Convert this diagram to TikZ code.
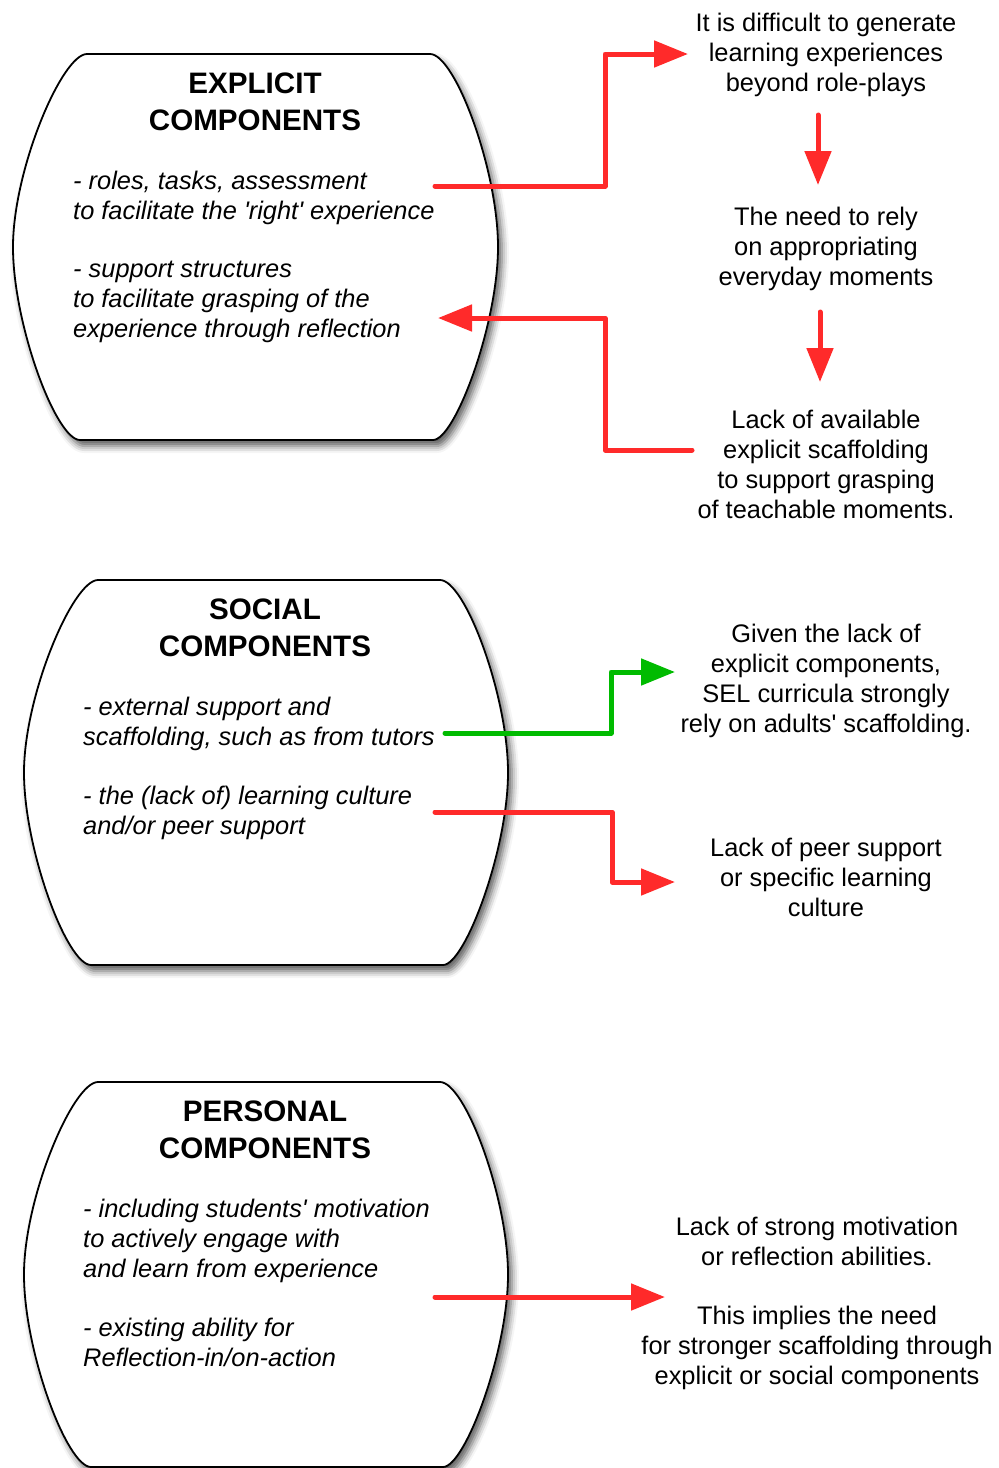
\documentclass[tikz,border=0pt]{standalone}
\usepackage{fontspec}
\newfontfamily\diagfont{Liberation Sans}
\usetikzlibrary{arrows.meta,shadows.blur}
\definecolor{arrowred}{RGB}{255,42,42}
\definecolor{arrowgreen}{RGB}{0,187,0}

% barrel-shaped container: flat top and bottom, bulging sides
% #1 left x, #2 right x, #3 top y, #4 bottom y
\newcommand\drawbarrel[4]{%
  \pgfmathsetmacro\brL{#1}\pgfmathsetmacro\brR{#2}%
  \pgfmathsetmacro\brT{#3}\pgfmathsetmacro\brB{#4}%
  \pgfmathsetmacro\brM{(#3+#4)/2}%
  \pgfmathsetmacro\brU{#3+0.3*(#4-#3)}%
  \pgfmathsetmacro\brD{#3+0.7*(#4-#3)}%
  \draw[barrel] ({\brL+74},\brT) -- ({\brR-68},\brT)
    .. controls ({\brR-43},\brT) and (\brR,\brU) .. (\brR,\brM)
    .. controls (\brR,\brD) and ({\brR-43},\brB) .. ({\brR-65},\brB)
    -- ({\brL+67},\brB)
    .. controls ({\brL+43},\brB) and (\brL,\brD) .. (\brL,\brM)
    .. controls (\brL,\brU) and ({\brL+49},\brT) .. ({\brL+74},\brT) -- cycle;
}

\tikzset{
  barrel/.style={draw=black, line width=1.8pt, fill=white,
    blur shadow={shadow xshift=4pt, shadow yshift=-6pt,
      shadow blur radius=7pt, shadow opacity=65}},
  boxtitle/.style={font=\diagfont\fontsize{29.6}{37}\selectfont\bfseries,
    align=center, inner sep=0pt, anchor=base},
  boxbody/.style={font=\diagfont\fontsize{25.4}{29.6}\selectfont\itshape,
    align=left, inner sep=0pt, anchor=base west},
  note/.style={font=\diagfont\fontsize{25.4}{30}\selectfont,
    align=center, inner sep=0pt, anchor=base},
  link/.style={line width=5pt, line cap=round, line join=round,
    -{Triangle[length=34pt,width=26pt]}},
  redlink/.style={link, color=arrowred},
  greenlink/.style={link, color=arrowgreen},
}

\begin{document}
\begin{tikzpicture}[x=1pt, y=-1pt]
\useasboundingbox (0,0) rectangle (999,1468);

% ---------- containers ----------
\drawbarrel{13}{498}{54}{440}
\drawbarrel{24}{508}{580}{965}
\drawbarrel{24}{508}{1082}{1467}

% node positions below give the baseline of each text's last line

% ---------- explicit components ----------
\node[boxtitle] (exp-title) at (255,130) {EXPLICIT\\COMPONENTS};
\node[boxbody] (exp-a) at (73,219) {- roles, tasks, assessment\\to facilitate the 'right' experience};
\node[boxbody] (exp-b) at (73,337) {- support structures\\to facilitate grasping of the\\experience through reflection};

% ---------- social components ----------
\node[boxtitle] (soc-title) at (265,656) {SOCIAL\\COMPONENTS};
\node[boxbody] (soc-a) at (83,745) {- external support and\\scaffolding, such as from tutors};
\node[boxbody] (soc-b) at (83,834) {- the (lack of) learning culture\\and/or peer support};

% ---------- personal components ----------
\node[boxtitle] (per-title) at (265,1158) {PERSONAL\\COMPONENTS};
\node[boxbody] (per-a) at (83,1277) {- including students' motivation\\to actively engage with\\and learn from experience};
\node[boxbody] (per-b) at (83,1366) {- existing ability for\\Reflection-in/on-action};

% ---------- consequences ----------
\node[note] (n-roleplay) at (826,91) {It is difficult to generate\\learning experiences\\beyond role-plays};
\node[note] (n-everyday) at (826,285) {The need to rely\\on appropriating\\everyday moments};
\node[note] (n-lack) at (826,518) {Lack of available\\explicit scaffolding\\to support grasping\\of teachable moments.};
\node[note] (n-adults) at (826,732) {Given the lack of\\explicit components,\\SEL curricula strongly\\rely on adults' scaffolding.};
\node[note] (n-peer) at (826,916) {Lack of peer support\\or specific learning\\culture};
\node[note] (n-motiv) at (817,1265) {Lack of strong motivation\\or reflection abilities.};
\node[note] (n-need) at (817,1384) {This implies the need\\for stronger scaffolding through\\explicit or social components};

% ---------- connector end points ----------
\coordinate (s1) at (435,186);  \coordinate (k1) at (605,54);  \coordinate (h1) at (688,54);
\coordinate (s2) at (692,450);  \coordinate (k2) at (605,318); \coordinate (h2) at (438,318);
\coordinate (v1s) at (818,115); \coordinate (v1e) at (818,185);
\coordinate (v2s) at (820,312); \coordinate (v2e) at (820,382);
\coordinate (g1) at (445,733);  \coordinate (gk) at (611,672); \coordinate (gh) at (675,672);
\coordinate (s3) at (435,812);  \coordinate (k3) at (612,882); \coordinate (h3) at (675,882);
\coordinate (s4) at (435,1297); \coordinate (h4) at (665,1297);

% ---------- connectors ----------
\draw[redlink] (s1) -| (k1) -- (h1);
\draw[redlink] (s2) -| (k2) -- (h2);
\draw[redlink] (v1s) -- (v1e);
\draw[redlink] (v2s) -- (v2e);
\draw[greenlink] (g1) -| (gk) -- (gh);
\draw[redlink] (s3) -| (k3) -- (h3);
\draw[redlink] (s4) -- (h4);
\end{tikzpicture}
\end{document}
